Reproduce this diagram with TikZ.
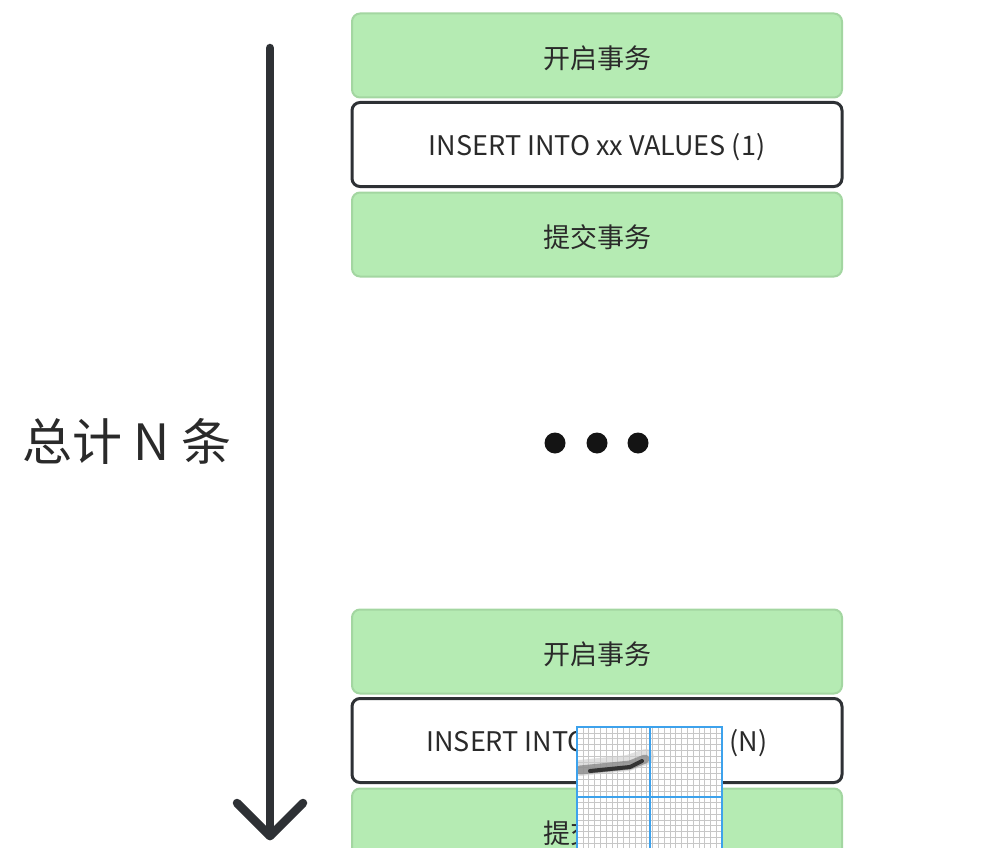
\documentclass[tikz,border=0pt]{standalone}
\usepackage{fontspec}
\setmainfont{Noto Sans CJK SC}
\newfontfamily\cjk{Noto Sans CJK SC}
\definecolor{boxgreen}{HTML}{B5EBB3}
\definecolor{boxgreenline}{HTML}{A3D6A1}
\definecolor{darkline}{HTML}{2E3135}
\definecolor{txt}{HTML}{2A2A2A}
\definecolor{pickblue}{HTML}{3DA2EC}
\tikzset{
  greenbox/.style={draw=boxgreenline, line width=2pt, fill=boxgreen, rounded corners=8pt,
    minimum width=490pt, minimum height=84pt, inner sep=0pt},
  whitebox/.style={draw=darkline, line width=3pt, fill=white, rounded corners=8pt,
    minimum width=490pt, minimum height=84pt, inner sep=0pt},
  boxtext/.style={inner sep=0pt, font=\cjk\fontsize{27}{27}\selectfont, text=txt},
  dotnode/.style={circle, fill=black!92, minimum size=21pt, inner sep=0pt},
  bigarrow/.style={draw=darkline, line width=8.5pt, line cap=round, line join=round},
}
\begin{document}
\begin{tikzpicture}[x=1pt,y=-1pt]
\useasboundingbox (0,0) rectangle (985,848);
% top group
\node[greenbox] (b1) at (597,55.5) {};
\node[whitebox] (b2) at (597,144.5) {};
\node[greenbox] (b3) at (597,234.5) {};
\node[boxtext] (t1) at ([yshift=-2.5pt]b1.center) {开启事务};
\node[boxtext] (t2) at ([yshift=-3pt]b2.center) {INSERT INTO xx VALUES (1)};
\node[boxtext] (t3) at ([yshift=-2.5pt]b3.center) {提交事务};
% dots
\node[dotnode] (d1) at (555,443) {};
\node[dotnode] (d2) at (597,443) {};
\node[dotnode] (d3) at (638,443) {};
% bottom group
\node[greenbox] (b4) at (597,651.5) {};
\node[whitebox] (b5) at (597,740.5) {};
\node[greenbox] (b6) at (597,830.5) {};
\node[boxtext] (t4) at ([yshift=-2.5pt]b4.center) {开启事务};
\node[boxtext] (t5) at ([yshift=-3pt]b5.center) {INSERT INTO xx VALUES (N)};
\node[boxtext] (t6) at ([yshift=-2.5pt]b6.center) {提交事务};
% arrow
\coordinate (atop) at (270,48);
\coordinate (abot) at (270,836);
\coordinate (al) at (237,803);
\coordinate (ar) at (303,803);
\draw[bigarrow] (atop) -- (abot);
\draw[bigarrow] (al) -- (abot) -- (ar);
% label
\node[font=\cjk\fontsize{50}{50}\selectfont, text=txt, anchor=center] (lbl) at (127,441) {总计 N 条};
% magnifier overlay (screen artifact)
\begin{scope}
\clip (577,727) rectangle (722,848);
\fill[white] (577,727) rectangle (722,848);
\foreach \i in {0,...,25} {
  \draw[black!22, line width=0.6pt] (577+\i*5.8,727) -- (577+\i*5.8,848);
  \draw[black!22, line width=0.6pt] (577,727+\i*5.8) -- (722,727+\i*5.8);
}
\draw[black!20, line width=16pt, line cap=round, opacity=0.6] (580,768) -- (628,763) -- (646,757);
\draw[black!50, line width=9pt, line cap=round, opacity=0.7] (580,770) -- (630,765) -- (645,759);
\draw[black!80, line width=4pt, line cap=round] (590,771) -- (630,767) -- (642,761);
\draw[pickblue, line width=1.5pt] (650,727) -- (650,848);
\draw[pickblue, line width=1.5pt] (577,797) -- (722,797);
\end{scope}
\draw[pickblue, line width=2pt] (577,848) -- (577,727) -- (722,727) -- (722,848);
\end{tikzpicture}
\end{document}
